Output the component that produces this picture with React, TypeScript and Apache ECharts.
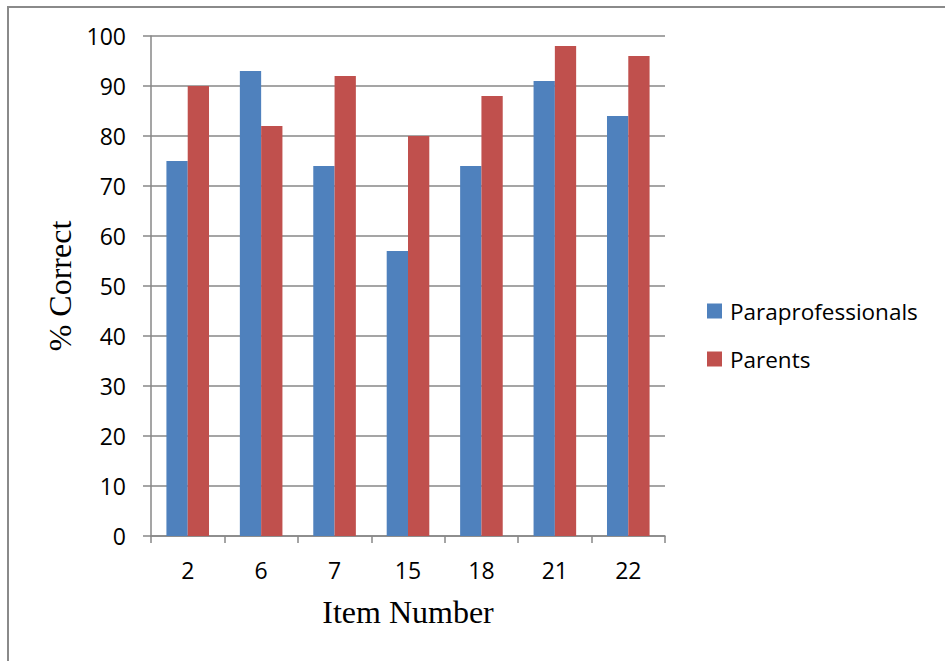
import React, { useEffect, useRef } from "react";
import * as echarts from "echarts";

const items = ["2", "6", "7", "15", "18", "21", "22"];
const paraprofessionals = [75, 93, 74, 57, 74, 91, 84];
const parents = [90, 82, 92, 80, 88, 98, 96];
const seriesNames = ["Paraprofessionals", "Parents"];
const colors = ["#4F81BD", "#C0504D"];

const AXIS_GRAY = "#878787";
const SANS = "'Open Sans', 'Noto Sans', sans-serif";
const SERIF = "'Liberation Serif', 'DejaVu Serif', serif";

export default function App() {
  const ref = useRef<HTMLDivElement>(null);

  useEffect(() => {
    if (!ref.current) return;
    const chart = echarts.init(ref.current, undefined, { renderer: "svg" });
    chart.setOption({
      animation: false,
      backgroundColor: "#ffffff",
      color: colors,
      grid: { left: 151, top: 36, width: 514, height: 500, containLabel: false },
      legend: {
        orient: "vertical",
        left: 707,
        top: 299,
        padding: 0,
        itemWidth: 15,
        itemHeight: 15,
        itemGap: 24,
        icon: "rect",
        data: seriesNames,
        textStyle: { fontFamily: SANS, fontSize: 22.5, color: "#000", padding: [0, 0, 0, 3], lineHeight: 24 },
      },
      xAxis: {
        type: "category",
        data: items,
        name: "Item Number",
        nameLocation: "middle",
        nameGap: 60,
        nameTextStyle: { fontFamily: SERIF, fontSize: 32, color: "#000" },
        axisLine: { lineStyle: { color: AXIS_GRAY, width: 1.5 } },
        axisTick: { show: true, length: 7, lineStyle: { color: AXIS_GRAY, width: 1.5 } },
        axisLabel: { fontFamily: SANS, fontSize: 23, color: "#000", margin: 22 },
      },
      yAxis: {
        type: "value",
        min: 0,
        max: 100,
        interval: 10,
        name: "% Correct",
        nameLocation: "middle",
        nameGap: 74,
        nameTextStyle: { fontFamily: SERIF, fontSize: 32, color: "#000" },
        axisLine: { show: true, lineStyle: { color: AXIS_GRAY, width: 1.5 } },
        axisTick: { show: true, length: 8, lineStyle: { color: AXIS_GRAY, width: 1.5 } },
        axisLabel: { fontFamily: SANS, fontSize: 23, color: "#000", margin: 25 },
        splitLine: { show: true, lineStyle: { color: AXIS_GRAY, width: 1.5 } },
      },
      series: [
        {
          name: seriesNames[0],
          type: "bar",
          data: paraprofessionals,
          barGap: "0%",
          barCategoryGap: "42%",
        },
        {
          name: seriesNames[1],
          type: "bar",
          data: parents,
          barGap: "0%",
          barCategoryGap: "42%",
        },
      ],
      graphic: [
        {
          type: "rect",
          silent: true,
          shape: { x: 8, y: 7, width: 1200, height: 1000 },
          style: { fill: "none", stroke: "#8a8a8a", lineWidth: 2 },
        },
      ],
    });
    return () => chart.dispose();
  }, []);

  return (
    <div
      ref={ref}
      style={{ position: "fixed", left: 0, top: 0, width: 945, height: 661 }}
    />
  );
}
